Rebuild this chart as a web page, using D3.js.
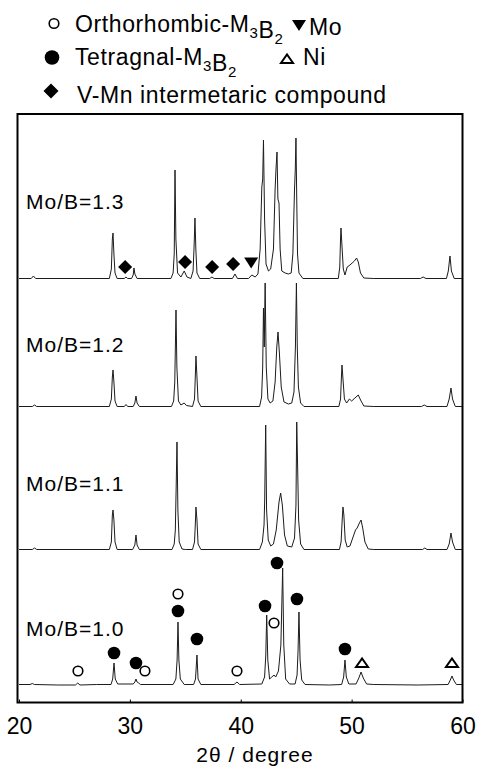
<!DOCTYPE html>
<html><head><meta charset="utf-8">
<script src="https://cdn.jsdelivr.net/npm/d3@7"></script>
<style>
body{margin:0;background:#fff}
svg{display:block}
text{font-family:"Liberation Sans",Arial,sans-serif;fill:#000}
</style>
</head><body>
<svg id="c" width="479" height="766"></svg>
<script>
// ---------------- DATA ----------------
const sampleLabels = ["Mo/B=1.0", "Mo/B=1.1", "Mo/B=1.2", "Mo/B=1.3"];
// vertical offsets of each pattern (a.u.)
const sampleOffsets = [17.5, 152.5, 295.5, 423.5];

// [2theta, intensity a.u.]
const xrd10 = [[20,0.5],[21.0,0.5],[21.2,1.5],[21.4,0.5],[23.5,0],[25.1,0],[25.3,2],[25.5,0],
[27.0,0.5],[28.3,0.5],[28.45,6],[28.57,22],[28.68,6],[28.9,1],
[30.3,1],[30.45,3],[30.55,6],[30.65,3],[30.8,2],[30.95,0.5],
[33.9,0.5],[34.15,6],[34.26,25],[34.34,63],[34.42,25],[34.55,6],[34.9,0.5],
[35.75,0.5],[35.92,6],[36.05,30],[36.15,6],[36.4,0.5],
[39.4,0.5],[39.66,3],[39.9,0.5],
[41.9,1],[42.15,8],[42.26,30],[42.34,70],[42.44,25],[42.6,6],[42.8,8],[43.0,10],[43.15,8],[43.4,14],[43.62,40],[43.78,117],[43.88,40],[44.05,6],[44.4,1],
[44.9,1],[45.08,10],[45.17,35],[45.25,73],[45.35,25],[45.5,5],[45.8,0.5],
[48,0],[49.1,0.5],[49.28,8],[49.4,25],[49.52,8],[49.75,1],
[50.4,1],[50.65,7],[50.85,13],[51.05,7],[51.35,1],
[52,0.5],[56,0],[58.7,0.5],[58.9,5],[59.05,9],[59.2,5],[59.45,0.5],[60,0.5]];

const xrd11 = [[20,0.5],[21.2,0.5],[21.4,2],[21.6,0.5],
[28.15,0.5],[28.33,8],[28.42,35],[28.48,40],[28.56,30],[28.66,8],[28.85,0.5],
[30.25,0.5],[30.45,5],[30.55,15],[30.65,5],[30.85,0.5],
[33.8,0.5],[34.0,6],[34.1,20],[34.17,60],[34.25,108],[34.33,40],[34.45,8],[34.7,1],[35.0,0.5],
[35.65,0.5],[35.83,8],[35.9,25],[35.96,43],[36.05,30],[36.15,6],[36.4,0.5],
[41.7,0.5],[41.95,8],[42.1,25],[42.16,50],[42.25,125],[42.33,40],[42.48,10],[42.7,4],
[42.95,6],[43.2,20],[43.45,48],[43.6,57],[43.75,45],[43.95,15],[44.2,4],
[44.6,3],[44.85,12],[44.98,45],[45.05,128],[45.13,83],[45.22,30],[45.4,6],[45.7,0.5],
[48.9,0.5],[49.05,8],[49.15,30],[49.22,43],[49.3,35],[49.42,10],[49.6,3],[49.85,4],[50.1,12],[50.35,20],[50.5,22],[50.7,27],[50.85,30],[51.0,22],[51.2,8],[51.5,1],
[52,0.5],[56.4,0.5],[56.6,2],[56.8,0.5],
[58.6,0.5],[58.8,6],[58.96,17],[59.1,8],[59.35,0.5],[60,0.5]];

const xrd12 = [[20,0.5],[21.2,0.5],[21.4,2],[21.6,0.5],
[28.15,0.5],[28.33,8],[28.42,30],[28.48,37],[28.56,25],[28.66,6],[28.85,0.5],
[29.5,0.5],[29.65,2.5],[29.8,0.5],
[30.3,0.5],[30.45,4],[30.55,11],[30.65,4],[30.85,0.5],
[33.75,0.5],[33.95,6],[34.05,25],[34.16,97],[34.24,40],[34.38,6],[34.6,2],[34.9,4],[35.1,1.5],
[35.65,0.5],[35.83,8],[35.9,30],[35.96,51],[36.05,30],[36.15,6],[36.4,0.5],
[41.7,0.5],[41.88,10],[41.98,40],[42.05,99],[42.12,60],[42.2,124],[42.3,40],[42.45,8],[42.65,4],
[42.9,6],[43.1,25],[43.25,60],[43.36,75],[43.48,55],[43.65,20],[43.9,5],[44.3,3],
[44.6,4],[44.8,15],[44.93,60],[45.02,124],[45.1,60],[45.2,20],[45.4,4],[45.7,0.5],
[48.85,0.5],[49.0,8],[49.08,30],[49.13,42],[49.22,28],[49.35,8],[49.55,4],[49.8,8],[50.0,6],[50.3,9],[50.6,12],[50.85,6],[51.1,1],
[52,0.5],[56.3,0.5],[56.55,2],[56.8,0.5],
[58.6,0.5],[58.8,8],[58.96,19],[59.1,8],[59.35,0.5],[60,0.5]];

const xrd13 = [[20,0.5],[21.1,0.5],[21.3,3],[21.5,0.5],
[28.15,0.5],[28.33,10],[28.42,40],[28.48,46],[28.56,25],[28.66,6],[28.85,0.5],
[29.5,0.5],[29.65,2],[29.8,0.5],
[30.15,0.5],[30.3,4],[30.37,11],[30.45,5],[30.65,0.5],
[33.7,0.5],[33.9,6],[34.0,25],[34.07,109],[34.15,40],[34.3,6],[34.6,2],[34.9,8],[35.15,2],
[35.5,0.5],[35.7,8],[35.8,35],[35.87,61],[35.95,30],[36.05,6],[36.3,0.5],
[37.2,0.5],[37.4,2],[37.6,0.5],
[39.25,0.5],[39.48,5],[39.7,0.5],
[40.7,0.5],[41.0,4],[41.3,2],[41.55,5],[41.75,30],[41.9,92],[41.98,100],[42.05,139],[42.15,60],[42.28,15],[42.5,8],[42.7,10],
[42.95,30],[43.1,90],[43.18,110],[43.27,127],[43.35,80],[43.45,76],[43.55,30],[43.7,8],[44.0,6],[44.3,5],[44.55,6],
[44.7,25],[44.85,90],[44.92,110],[44.98,141],[45.05,80],[45.12,25],[45.25,6],[45.6,0.5],
[48.8,0.5],[48.93,12],[49.0,40],[49.04,51],[49.12,35],[49.25,10],[49.4,4],[49.6,12],[49.85,14],[50.05,16],[50.25,18],[50.45,21],[50.6,17],[50.8,6],[51.1,1],
[52,0.5],[56.2,0.5],[56.45,2],[56.7,0.5],
[58.55,0.5],[58.72,8],[58.87,23],[59.0,8],[59.25,0.5],[60,0.5]];

const patterns = [xrd10, xrd11, xrd12, xrd13];

const xTicks = [20, 30, 40, 50, 60];

// phase markers: position (2theta) and height above pattern baseline (a.u.)
const orthoPos = [25.32, 31.36, 34.34, 39.66, 43.0];
const orthoH   = [14, 14, 91, 14, 62];
const tetraPos = [28.57, 30.55, 34.34, 36.05, 42.19, 43.27, 45.07, 49.40];
const tetraH   = [32, 22, 74, 46, 79, 122, 86, 36];
const niPos = [50.94, 59.05];
const niH   = [22, 22];
const vmnPos = [29.57, 34.98, 37.42, 39.31];
const vmnH   = [12, 17, 12, 15];
const moPos = [40.94];
const moH   = [16];

// ---------------- CHART ----------------
const svg = d3.select("#c");
const frame = {l: 17.5, r: 462.5, t: 114, b: 702.5};
const x = d3.scaleLinear().domain([20, 60]).range([19, 462.5]);
const y = d3.scaleLinear().domain([0, 589]).range([702.5, 113.5]);

const triDown = {draw(ctx, s){ ctx.moveTo(-7,-5.5); ctx.lineTo(7,-5.5); ctx.lineTo(0,5.5); ctx.closePath(); }};
const triUp = {draw(ctx, s){ ctx.moveTo(-6,4); ctx.lineTo(6,4); ctx.lineTo(0,-4.5); ctx.closePath(); }};
const diamond = {draw(ctx, s){ const r = s; ctx.moveTo(0,-r); ctx.lineTo(r,0); ctx.lineTo(0,r); ctx.lineTo(-r,0); ctx.closePath(); }};

// patterns
const line = off => d3.line().x(d => x(d[0])).y(d => y(d[1] + off));
patterns.forEach((p, i) => {
  svg.append("path").attr("d", line(sampleOffsets[i])(p))
    .attr("fill", "none").attr("stroke", "#1c1c1c").attr("stroke-width", 1)
    .attr("stroke-linejoin", "round");
});

// sample labels
const labelBase = [636, 491, 352, 209];
sampleLabels.forEach((t, i) => {
  svg.append("text").attr("x", 26).attr("y", labelBase[i])
    .attr("font-size", 21).attr("letter-spacing", 1).text(t);
});

// markers on 1.0 pattern
const off0 = sampleOffsets[0], off3 = sampleOffsets[3];
orthoPos.forEach((p, i) => svg.append("circle").attr("cx", x(p)).attr("cy", y(off0 + orthoH[i])).attr("r", 4.8)
  .attr("fill", "#fff").attr("stroke", "#000").attr("stroke-width", 1.6));
tetraPos.forEach((p, i) => svg.append("circle").attr("cx", x(p)).attr("cy", y(off0 + tetraH[i])).attr("r", 6.3).attr("fill", "#000"));
niPos.forEach((p, i) => svg.append("path").attr("d", d3.symbol(triUp)()).attr("transform", `translate(${x(p)},${y(off0 + niH[i])})`)
  .attr("fill", "#fff").attr("stroke", "#000").attr("stroke-width", 2));
vmnPos.forEach((p, i) => svg.append("path").attr("d", d3.symbol(diamond, 7)()).attr("transform", `translate(${x(p)},${y(off3 + vmnH[i])})`).attr("fill", "#000"));
moPos.forEach((p, i) => svg.append("path").attr("d", d3.symbol(triDown)()).attr("transform", `translate(${x(p)},${y(off3 + moH[i])})`).attr("fill", "#000"));

// frame
svg.append("rect").attr("x", frame.l).attr("y", frame.t).attr("width", frame.r - frame.l).attr("height", frame.b - frame.t)
  .attr("fill", "none").attr("stroke", "#000").attr("stroke-width", 2);

// x axis
const ax = svg.append("g").attr("transform", `translate(0,${frame.b})`)
  .call(d3.axisBottom(x).tickValues(xTicks).tickFormat(d3.format("d")).tickSizeInner(-3).tickSizeOuter(0).tickPadding(15));
ax.select(".domain").remove();
ax.selectAll("line").attr("stroke", "#000");
ax.selectAll("text").attr("font-size", 23).attr("font-family", null).attr("fill", "#000");
ax.attr("font-family", null);

svg.append("text").attr("x", 255).attr("y", 762).attr("text-anchor", "middle")
  .attr("font-size", 21).attr("letter-spacing", 1).text("2θ / degree");

// legend
const lg = svg.append("g");
const legText = (tx, ty, parts) => {
  const t = lg.append("text").attr("x", tx).attr("y", ty).attr("font-size", 23).attr("letter-spacing", 0.6);
  parts.forEach(pp => {
    if (pp.sub) { t.append("tspan").attr("font-size", 15).attr("dy", 6).text(pp.sub); t.append("tspan").attr("dy", -6).text(""); }
    else t.append("tspan").text(pp.t);
  });
};
lg.append("circle").attr("cx", 54).attr("cy", 23.5).attr("r", 4.8).attr("fill", "#fff").attr("stroke", "#000").attr("stroke-width", 1.6);
legText(75, 32, [{t: "Orthorhombic-M"}, {sub: "3"}, {t: "B"}, {sub: "2"}]);
lg.append("path").attr("d", d3.symbol(triDown)()).attr("transform", "translate(299,25.5)").attr("fill", "#000");
legText(309, 35, [{t: "Mo"}]);
lg.append("circle").attr("cx", 52).attr("cy", 57.5).attr("r", 7.3).attr("fill", "#000");
legText(75, 65, [{t: "Tetragnal-M"}, {sub: "3"}, {t: "B"}, {sub: "2"}]);
lg.append("path").attr("d", d3.symbol(triUp)()).attr("transform", "translate(287,59)").attr("fill", "#fff").attr("stroke", "#000").attr("stroke-width", 2);
legText(303, 65, [{t: "Ni"}]);
lg.append("path").attr("d", d3.symbol(diamond, 7.5)()).attr("transform", "translate(51,91)").attr("fill", "#000");
legText(77, 103, [{t: "V-Mn intermetaric compound"}]);
</script>
</body></html>
